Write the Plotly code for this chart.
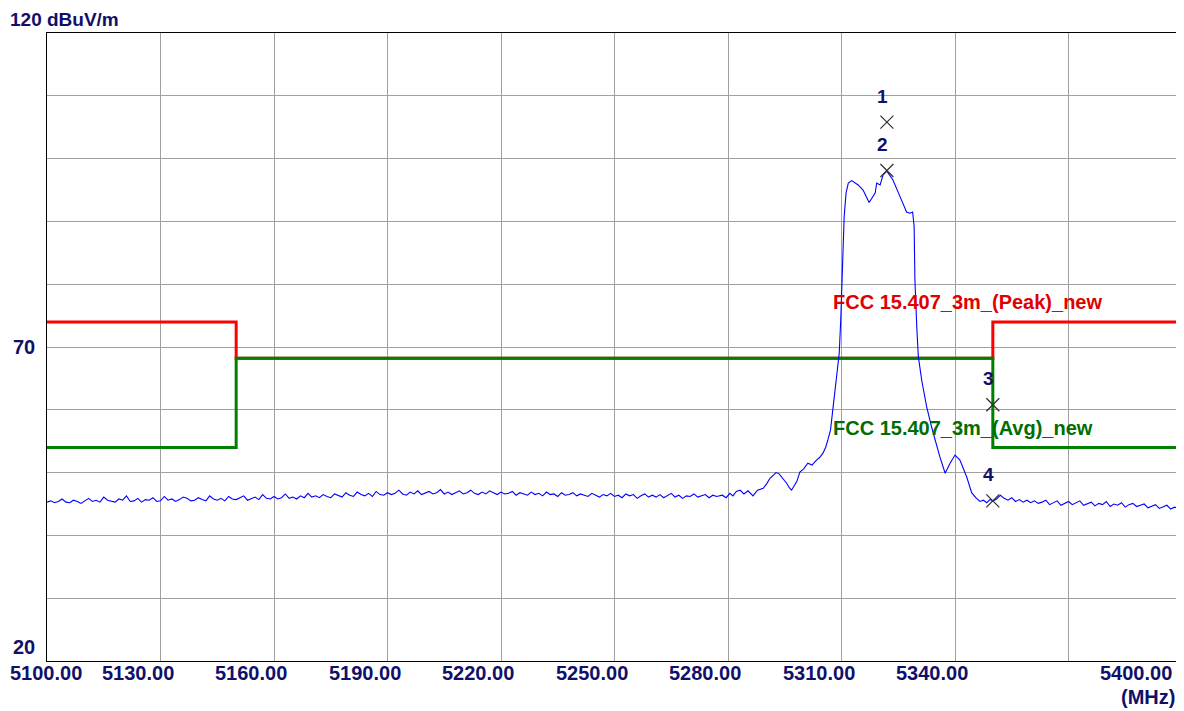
import plotly.graph_objects as go

# ---------------- data ----------------
floor_left_freq = list(range(5100, 5278))
floor_left_level = [
    45.3, 45.5, 45.2, 45.4, 45.8, 45.3, 45.2, 45.6, 45.4, 45.1,
    45.5, 45.9, 45.4, 45.6, 45.3, 46.1, 45.6, 45.5, 45.3, 45.8,
    45.6, 46.3, 45.4, 45.5, 45.9, 45.3, 45.7, 45.6, 46.0, 45.4,
    45.5, 46.2, 45.6, 45.8, 45.4, 45.7, 46.1, 45.9, 45.5, 45.6,
    46.0, 45.7, 45.5, 46.3, 45.8, 45.6, 45.9, 45.5, 46.2, 45.8,
    45.7, 46.0, 46.3, 45.6, 45.8, 46.1, 45.7, 46.5, 45.9, 45.8,
    46.2, 45.8, 46.0, 46.6, 45.9, 46.1, 45.8, 46.3, 46.0, 46.7,
    46.1, 46.3, 46.0, 46.5, 46.2, 46.0, 46.6, 46.3, 46.1, 46.8,
    46.4, 46.2, 46.9, 46.5, 46.3, 46.7, 46.2, 47.0, 46.5, 46.4,
    46.8, 46.5, 46.7, 47.2, 46.6, 46.4, 46.9, 46.6, 47.1, 46.5,
    46.7, 47.0, 46.6, 46.8, 47.3, 46.6, 46.9, 46.5, 46.8, 47.1,
    46.6, 46.8, 47.2, 46.7, 46.5, 46.9, 46.6, 47.1, 46.8, 46.5,
    46.9, 46.6, 46.7, 47.0, 46.4, 46.8, 46.6, 46.4, 46.9, 46.5,
    46.7, 46.3, 46.9, 46.5, 46.6, 46.2, 46.8, 46.4, 46.5, 46.8,
    46.3, 46.6, 46.4, 46.2, 46.7, 46.4, 46.1, 46.5, 46.3, 46.7,
    46.2, 46.4, 46.0, 46.6, 46.3, 46.5, 45.9, 46.3, 46.6, 46.1,
    46.4, 46.1, 46.5, 46.0, 46.3, 46.7, 46.1, 46.4, 45.9, 46.3,
    46.2, 46.6, 46.1, 46.3, 46.5, 46.0, 46.4, 46.2,
]

signal_freq = [
    5278.5, 5279.5, 5280.5, 5281.3, 5282.2, 5283.2, 5284.2, 5285.3, 5286.6, 5287.8,
    5289.3, 5290.2, 5291.1, 5292.0, 5292.7, 5293.5, 5294.2, 5295.5, 5296.2, 5296.8,
    5297.5, 5298.2, 5299.0, 5300.0, 5301.1, 5302.2, 5303.4, 5304.2, 5305.1, 5305.8,
    5306.4, 5307.1, 5307.4, 5308.3, 5308.9, 5309.4, 5309.8, 5310.1, 5310.3, 5310.7,
    5311.2, 5311.8, 5312.7, 5314.4, 5315.7, 5317.3, 5318.9, 5319.3, 5320.2, 5321.0,
    5322.0, 5323.6, 5325.5, 5327.2, 5328.1, 5328.8, 5329.2, 5329.4, 5329.9, 5330.3,
    5331.2, 5332.5, 5333.8, 5334.7, 5336.0, 5337.4, 5338.7, 5340.0, 5341.3, 5343.1,
    5344.4, 5345.5, 5346.6, 5347.5, 5348.4, 5349.2, 5350.0,
]
signal_level = [
    46.4, 46.0, 46.7, 46.3, 47.0, 47.2, 46.6, 47.1, 46.3, 47.2,
    47.5, 48.2, 49.1, 49.6, 50.0, 49.8, 49.3, 48.3, 47.6, 47.2,
    47.9, 48.6, 50.1, 50.6, 51.5, 51.2, 52.0, 52.4, 53.1, 54.0,
    55.2, 56.8, 58.4, 63.7, 66.9, 69.0, 74.3, 80.7, 85.4, 90.7,
    94.5, 96.1, 96.5, 95.8, 95.0, 93.0, 94.5, 96.1, 95.8, 97.4,
    98.0, 96.6, 93.9, 91.5, 91.3, 91.5, 89.2, 80.7, 73.2, 68.5,
    64.7, 60.5, 57.3, 55.2, 52.5, 49.9, 51.5, 52.8, 52.0, 49.3,
    46.8, 46.0, 45.4, 45.6, 45.2, 45.7, 45.5,
]

floor_right_freq = list(range(5351, 5401))
floor_right_level = [
    45.8, 46.4, 45.9, 45.6, 46.0, 45.4, 45.7, 45.3, 45.6, 45.2,
    45.5, 45.1, 45.3, 45.6, 44.9, 45.2, 45.5, 44.8, 45.1, 45.4,
    44.9, 45.2, 45.5, 44.8, 45.0, 45.3, 44.7, 45.1, 44.9, 45.4,
    44.6, 45.0, 44.8, 45.2, 44.5, 44.9, 45.1, 44.6, 44.8, 45.0,
    44.4, 44.7, 44.9, 44.3, 44.6, 44.8, 44.2, 44.5, 44.3, 44.1,
]

peak_limit_freq = [5100, 5150, 5150, 5350, 5350, 5400]
peak_limit_level = [74, 74, 68.2, 68.2, 74, 74]
avg_limit_freq = [5100, 5150, 5150, 5350, 5350, 5400]
avg_limit_level = [54, 54, 68.2, 68.2, 54, 54]
peak_limit_name = "FCC 15.407_3m_(Peak)_new"
avg_limit_name = "FCC 15.407_3m_(Avg)_new"

marker_ids = ["1", "2", "3", "4"]
marker_freq = [5322.0, 5322.0, 5350.0, 5350.0]
marker_level = [105.8, 98.1, 60.8, 45.5]

x_tick_vals = [5100, 5130, 5160, 5190, 5220, 5250, 5280, 5310, 5340, 5400]
x_tick_text = ["5100.00", "5130.00", "5160.00", "5190.00", "5220.00",
               "5250.00", "5280.00", "5310.00", "5340.00", "5400.00"]
y_tick_vals = [20, 70]
y_tick_text = ["20", "70"]
y_top_label = "120 dBuV/m"
x_unit_label = "(MHz)"

# ---------------- figure ----------------
NAVY = "#10106a"
FONT = "Liberation Sans"

trace_freq = floor_left_freq + signal_freq + floor_right_freq
trace_level = floor_left_level + signal_level + floor_right_level

fig = go.Figure()
fig.add_trace(go.Scatter(x=peak_limit_freq, y=peak_limit_level, mode="lines",
                         line=dict(color="#ff0000", width=3), showlegend=False))
fig.add_trace(go.Scatter(x=avg_limit_freq, y=avg_limit_level, mode="lines",
                         line=dict(color="#008000", width=3), showlegend=False))
fig.add_trace(go.Scatter(x=trace_freq, y=trace_level, mode="lines",
                         line=dict(color="#0000ff", width=1.1), showlegend=False))
fig.add_trace(go.Scatter(x=marker_freq, y=marker_level, mode="markers",
                         marker=dict(symbol="x-thin-open", size=13, color="#303030",
                                     line=dict(color="#303030", width=1.2)),
                         showlegend=False))

annotations = []
for mid, mf, ml in zip(marker_ids, marker_freq, marker_level):
    annotations.append(dict(x=mf, y=ml, xref="x", yref="y", text=f"<b>{mid}</b>",
                            showarrow=False, xshift=-4, yshift=26,
                            font=dict(family=FONT, size=19, color=NAVY)))

for v, t in zip(x_tick_vals, x_tick_text):
    shift = -23
    if v == 5100:
        shift = -1
    elif v == 5400:
        shift = -46
    annotations.append(dict(x=v, y=0, xref="x", yref="paper", text=f"<b>{t}</b>",
                            showarrow=False, xanchor="center", yanchor="top",
                            xshift=shift, yshift=1,
                            font=dict(family=FONT, size=20, color=NAVY)))

for v, t in zip(y_tick_vals, y_tick_text):
    ys = 14 if v == 20 else 0
    annotations.append(dict(x=0, y=v, xref="paper", yref="y", text=f"<b>{t}</b>",
                            showarrow=False, xanchor="right", yanchor="middle",
                            xshift=-10, yshift=ys,
                            font=dict(family=FONT, size=20, color=NAVY)))

annotations.append(dict(x=0, y=1, xref="paper", yref="paper", text=f"<b>{y_top_label}</b>",
                        showarrow=False, xanchor="left", yanchor="middle",
                        xshift=-39, yshift=14,
                        font=dict(family=FONT, size=19, color=NAVY)))
annotations.append(dict(x=1, y=0, xref="paper", yref="paper", text=f"<b>{x_unit_label}</b>",
                        showarrow=False, xanchor="right", yanchor="middle",
                        xshift=-5, yshift=-36,
                        font=dict(family=FONT, size=20, color=NAVY)))

annotations.append(dict(x=5307.8, y=77.2, xref="x", yref="y", text=f"<b>{peak_limit_name}</b>",
                        showarrow=False, xanchor="left", yanchor="middle", xshift=-2,
                        font=dict(family=FONT, size=20, color="#e00000")))
annotations.append(dict(x=5307.8, y=57.1, xref="x", yref="y", text=f"<b>{avg_limit_name}</b>",
                        showarrow=False, xanchor="left", yanchor="middle", xshift=-2,
                        font=dict(family=FONT, size=20, color="#006e00")))

fig.update_layout(
    width=1176, height=703,
    margin=dict(l=39, r=2, t=25, b=50),
    paper_bgcolor="white", plot_bgcolor="white",
    annotations=annotations,
    showlegend=False,
)
fig.update_xaxes(range=[5100, 5400], tickmode="linear", tick0=5100, dtick=30,
                 showticklabels=False, ticks="", showgrid=True,
                 gridcolor="#a0a0a0", gridwidth=1, zeroline=False,
                 showline=True, linecolor="#000000", linewidth=1, mirror=True)
fig.update_yaxes(range=[20, 120], tickmode="linear", tick0=20, dtick=10,
                 showticklabels=False, ticks="", showgrid=True,
                 gridcolor="#a0a0a0", gridwidth=1, zeroline=False,
                 showline=True, linecolor="#000000", linewidth=1, mirror=True)

fig.write_html("out.html")
